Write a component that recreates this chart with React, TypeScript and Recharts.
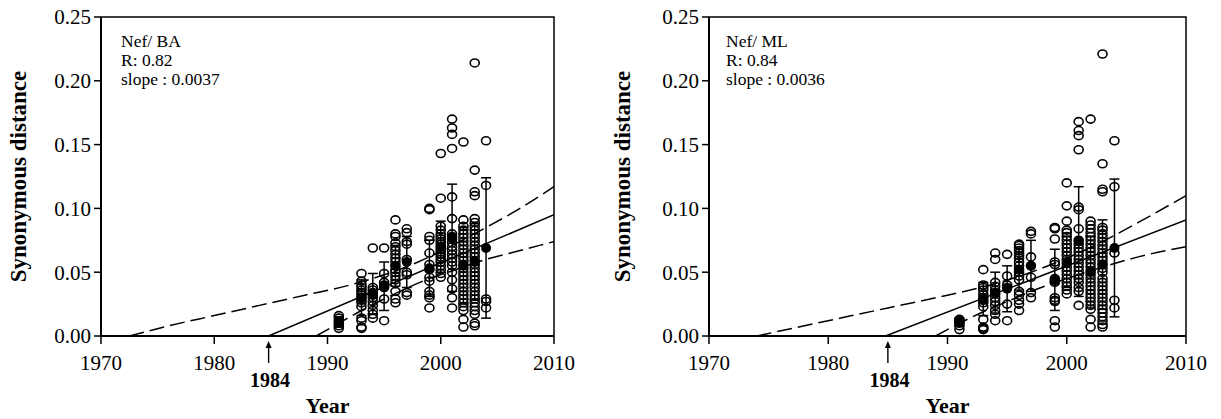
import React from "react";
import {
  ComposedChart,
  ErrorBar,
  Label,
  Line,
  ReferenceArea,
  ReferenceDot,
  Scatter,
  XAxis,
  YAxis,
} from "recharts";

const FONT = "'Liberation Serif', 'Times New Roman', serif";

const years = [1991, 1993, 1994, 1995, 1996, 1997, 1999, 2000, 2001, 2002, 2003, 2004];
const xTicks = [1970, 1980, 1990, 2000, 2010];
const yTicks = [0, 0.05, 0.1, 0.15, 0.2, 0.25];

// Nef / BA panel
const baPoints = [
  [0.016, 0.014, 0.012, 0.01, 0.008, 0.006],
  [0.049, 0.043, 0.04, 0.038, 0.036, 0.034, 0.032, 0.03, 0.028, 0.026, 0.023, 0.014, 0.012, 0.007, 0.006],
  [0.069, 0.038, 0.036, 0.034, 0.032, 0.03, 0.027, 0.024, 0.02, 0.017, 0.014],
  [0.069, 0.049, 0.042, 0.04, 0.038, 0.029, 0.012],
  [0.091, 0.08, 0.078, 0.073, 0.07, 0.067, 0.064, 0.061, 0.058, 0.055, 0.052, 0.05, 0.047, 0.044, 0.041, 0.035, 0.029, 0.026],
  [0.084, 0.081, 0.074, 0.072, 0.06, 0.05, 0.048, 0.034, 0.032],
  [0.1, 0.099, 0.078, 0.075, 0.065, 0.056, 0.052, 0.046, 0.043, 0.035, 0.032, 0.03, 0.022],
  [0.143, 0.108, 0.086, 0.083, 0.08, 0.078, 0.076, 0.074, 0.072, 0.07, 0.068, 0.066, 0.064, 0.062, 0.06, 0.058, 0.055, 0.052, 0.049, 0.046],
  [0.17, 0.163, 0.158, 0.147, 0.109, 0.092, 0.08, 0.078, 0.076, 0.073, 0.07, 0.067, 0.064, 0.061, 0.058, 0.055, 0.05, 0.044, 0.037, 0.03, 0.022],
  [0.152, 0.091, 0.086, 0.083, 0.08, 0.077, 0.074, 0.071, 0.068, 0.065, 0.062, 0.059, 0.056, 0.053, 0.05, 0.047, 0.044, 0.041, 0.038, 0.035, 0.032, 0.029, 0.026, 0.023, 0.02, 0.013, 0.007],
  [0.214, 0.13, 0.113, 0.11, 0.092, 0.089, 0.086, 0.083, 0.08, 0.077, 0.074, 0.071, 0.068, 0.065, 0.062, 0.059, 0.056, 0.053, 0.05, 0.047, 0.044, 0.041, 0.038, 0.035, 0.032, 0.029, 0.026, 0.023, 0.02, 0.017, 0.01, 0.008],
  [0.153, 0.118, 0.029, 0.027, 0.022],
];
const baMeans = [0.011, 0.03, 0.033, 0.039, 0.055, 0.058, 0.053, 0.07, 0.077, 0.055, 0.058, 0.069];
const baSd = [0.004, 0.014, 0.016, 0.019, 0.016, 0.02, 0.022, 0.02, 0.042, 0.03, 0.03, 0.055];
const baFitX = [1984.8, 2010];
const baFitY = [0, 0.095];
const baUpperX = [1972.5, 1976, 1980, 1984, 1988, 1992, 1995, 1998, 2001, 2004, 2007, 2010];
const baUpperY = [0, 0.008, 0.016, 0.024, 0.032, 0.04, 0.048, 0.058, 0.071, 0.085, 0.1, 0.117];
const baLowerX = [1989, 1991, 1993, 1995, 1997, 1999, 2001, 2004, 2007, 2010];
const baLowerY = [0, 0.01, 0.02, 0.029, 0.0375, 0.045, 0.051, 0.06, 0.067, 0.074];
const baText = ["Nef/ BA", "R: 0.82", "slope : 0.0037"];

// Nef / ML panel
const mlPoints = [
  [0.013, 0.012, 0.011, 0.01, 0.008, 0.005],
  [0.052, 0.04, 0.038, 0.036, 0.033, 0.03, 0.028, 0.026, 0.023, 0.013, 0.007, 0.006, 0.005],
  [0.065, 0.06, 0.042, 0.039, 0.036, 0.033, 0.03, 0.027, 0.024, 0.02, 0.017, 0.012],
  [0.064, 0.047, 0.04, 0.038, 0.025, 0.012],
  [0.072, 0.071, 0.069, 0.067, 0.065, 0.063, 0.061, 0.058, 0.055, 0.052, 0.05, 0.047, 0.044, 0.035, 0.032, 0.028, 0.025, 0.02],
  [0.082, 0.08, 0.062, 0.055, 0.046, 0.034, 0.03],
  [0.085, 0.084, 0.076, 0.058, 0.056, 0.045, 0.043, 0.042, 0.03, 0.028, 0.027, 0.012, 0.007],
  [0.12, 0.102, 0.09, 0.083, 0.081, 0.078, 0.075, 0.072, 0.069, 0.066, 0.063, 0.06, 0.057, 0.054, 0.051, 0.048, 0.045, 0.042, 0.039, 0.036, 0.033],
  [0.168, 0.161, 0.157, 0.146, 0.101, 0.099, 0.084, 0.075, 0.072, 0.069, 0.066, 0.063, 0.06, 0.057, 0.054, 0.051, 0.048, 0.045, 0.042, 0.038, 0.035, 0.024],
  [0.17, 0.09, 0.087, 0.084, 0.081, 0.078, 0.075, 0.072, 0.069, 0.066, 0.063, 0.06, 0.057, 0.054, 0.051, 0.048, 0.045, 0.042, 0.039, 0.036, 0.033, 0.03, 0.027, 0.024, 0.021, 0.013, 0.007],
  [0.221, 0.135, 0.115, 0.113, 0.085, 0.083, 0.08, 0.077, 0.074, 0.071, 0.068, 0.065, 0.062, 0.059, 0.056, 0.053, 0.05, 0.045, 0.042, 0.039, 0.036, 0.033, 0.03, 0.027, 0.024, 0.021, 0.018, 0.015, 0.012, 0.009, 0.007],
  [0.153, 0.117, 0.065, 0.028, 0.022],
];
const mlMeans = [0.011, 0.029, 0.034, 0.037, 0.052, 0.055, 0.044, 0.058, 0.074, 0.05, 0.056, 0.069];
const mlSd = [0.003, 0.013, 0.016, 0.018, 0.016, 0.02, 0.024, 0.02, 0.043, 0.028, 0.035, 0.054];
const mlFitX = [1984.8, 2010];
const mlFitY = [0, 0.091];
const mlUpperX = [1974, 1978, 1982, 1986, 1990, 1994, 1997, 2000, 2003, 2006, 2010];
const mlUpperY = [0, 0.008, 0.016, 0.024, 0.032, 0.041, 0.05, 0.061, 0.074, 0.089, 0.11];
const mlLowerX = [1989, 1991, 1993, 1995, 1997, 2000, 2003, 2006, 2010];
const mlLowerY = [0, 0.01, 0.019, 0.027, 0.035, 0.045, 0.054, 0.062, 0.07];
const mlText = ["Nef/ ML", "R: 0.84", "slope : 0.0036"];

const toPoints = (cols: number[][]) =>
  years.flatMap((yr, i) => cols[i].map((v) => ({ x: yr, y: v })));
const toMeans = (m: number[], sd: number[]) =>
  years.map((yr, i) => ({ x: yr, y: m[i], err: sd[i] }));
const toCurve = (xs: number[], ys: number[]) => xs.map((x, i) => ({ x, y: ys[i] }));

const OpenMark = (p: any) => (
  <ellipse cx={p.cx} cy={p.cy} rx={4.5} ry={4} fill="none" stroke="#000" strokeWidth={1.6} />
);
const MeanMark = (p: any) => <circle cx={p.cx} cy={p.cy} r={5} fill="#000" />;

type PanelProps = {
  left: number;
  width: number;
  axisWidth: number;
  right: number;
  labelX: number;
  textDx: number;
  points: number[][];
  means: number[];
  sd: number[];
  fit: { x: number; y: number }[];
  upper: { x: number; y: number }[];
  lower: { x: number; y: number }[];
  text: string[];
  arrowAt: number;
};

function Panel(p: PanelProps) {
  const tick = { fontFamily: FONT, fontSize: 21, fill: "#000" };
  return (
    <div style={{ position: "absolute", left: p.left, top: 0 }}>
      <ComposedChart
        width={p.width}
        height={419}
        margin={{ top: 17, right: p.right, bottom: 0, left: 0 }}
      >
        <XAxis
          type="number"
          dataKey="x"
          domain={[1970, 2010]}
          ticks={xTicks}
          allowDataOverflow
          height={83}
          tick={tick}
          tickSize={8}
          tickMargin={11}
          axisLine={{ stroke: "#000", strokeWidth: 2 }}
          tickLine={{ stroke: "#000", strokeWidth: 1.5 }}
        >
          <Label
            content={({ viewBox }: any) => (
              <text
                x={viewBox.x + viewBox.width / 2}
                y={413}
                textAnchor="middle"
                fontFamily={FONT}
                fontWeight="bold"
                fontSize={22}
                fill="#000"
              >
                Year
              </text>
            )}
          />
        </XAxis>
        <YAxis
          type="number"
          dataKey="y"
          domain={[0, 0.25]}
          ticks={yTicks}
          allowDataOverflow
          width={p.axisWidth}
          tick={tick}
          tickSize={7}
          tickMargin={3}
          tickFormatter={(v: number) => v.toFixed(2)}
          axisLine={{ stroke: "#000", strokeWidth: 2 }}
          tickLine={{ stroke: "#000", strokeWidth: 1.5 }}
        >
          <Label
            content={({ viewBox }: any) => {
              const cy = viewBox.y + viewBox.height / 2;
              return (
                <text
                  x={p.labelX}
                  y={cy}
                  transform={`rotate(-90 ${p.labelX} ${cy})`}
                  textAnchor="middle"
                  fontFamily={FONT}
                  fontWeight="bold"
                  fontSize={23}
                  fill="#000"
                >
                  Synonymous distance
                </text>
              );
            }}
          />
        </YAxis>
        <ReferenceArea
          x1={1970}
          x2={2010}
          y1={0}
          y2={0.25}
          fill="none"
          stroke="#000"
          strokeWidth={1.5}
          ifOverflow="visible"
        />
        <Line data={p.upper} dataKey="y" type="monotone" stroke="#000" strokeWidth={1.5} strokeDasharray="15 6" dot={false} isAnimationActive={false} />
        <Line data={p.lower} dataKey="y" type="monotone" stroke="#000" strokeWidth={1.5} strokeDasharray="15 6" dot={false} isAnimationActive={false} />
        <Line data={p.fit} dataKey="y" type="linear" stroke="#000" strokeWidth={1.5} dot={false} isAnimationActive={false} />
        <Scatter data={toPoints(p.points)} dataKey="y" shape={OpenMark} isAnimationActive={false} />
        <Scatter data={toMeans(p.means, p.sd)} dataKey="y" shape={MeanMark} isAnimationActive={false}>
          <ErrorBar dataKey="err" direction="y" width={5} stroke="#000" strokeWidth={1.5} />
        </Scatter>
        <ReferenceDot
          x={1970}
          y={0.25}
          ifOverflow="visible"
          shape={({ cx, cy }: any) => (
            <g fontFamily={FONT} fontSize={17.5} fill="#000">
              {p.text.map((t, i) => (
                <text key={t} x={cx + p.textDx} y={cy + 30 + i * 19}>
                  {t}
                </text>
              ))}
            </g>
          )}
        />
        <ReferenceDot
          x={p.arrowAt}
          y={0}
          ifOverflow="visible"
          shape={({ cx, cy }: any) => (
            <g>
              <line x1={cx} y1={cy + 10} x2={cx} y2={cy + 27} stroke="#000" strokeWidth={1.4} />
              <path d={`M${cx},${cy + 5} L${cx - 3},${cy + 12} L${cx + 3},${cy + 12} Z`} fill="#000" />
              <text
                x={cx + 1.5}
                y={cy + 51}
                textAnchor="middle"
                fontFamily={FONT}
                fontWeight="bold"
                fontSize={20}
                fill="#000"
              >
                1984
              </text>
            </g>
          )}
        />
      </ComposedChart>
    </div>
  );
}

export default function App() {
  return (
    <div style={{ position: "absolute", left: 0, top: 0, width: 1221, height: 419, background: "#fff" }}>
      <Panel
        left={0}
        width={600}
        axisWidth={101}
        right={46}
        labelX={26}
        textDx={20}
        points={baPoints}
        means={baMeans}
        sd={baSd}
        fit={toCurve(baFitX, baFitY)}
        upper={toCurve(baUpperX, baUpperY)}
        lower={toCurve(baLowerX, baLowerY)}
        text={baText}
        arrowAt={1984.8}
      />
      <Panel
        left={610}
        width={611}
        axisWidth={99}
        right={35}
        labelX={20}
        textDx={17}
        points={mlPoints}
        means={mlMeans}
        sd={mlSd}
        fit={toCurve(mlFitX, mlFitY)}
        upper={toCurve(mlUpperX, mlUpperY)}
        lower={toCurve(mlLowerX, mlLowerY)}
        text={mlText}
        arrowAt={1985}
      />
    </div>
  );
}
